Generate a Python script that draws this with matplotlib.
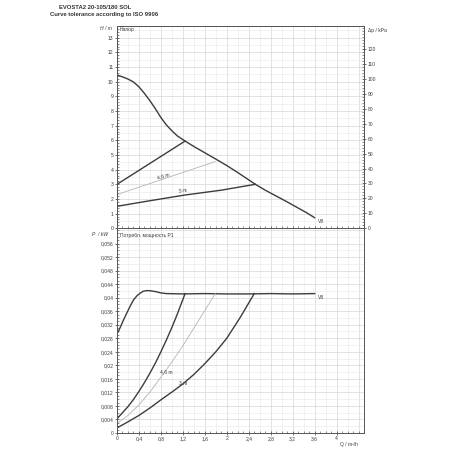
import matplotlib
matplotlib.use("Agg")
import matplotlib.pyplot as plt
from matplotlib.ticker import MultipleLocator, FixedLocator, FuncFormatter
import numpy as np

plt.rcParams['font.family'] = ['Liberation Sans', 'DejaVu Sans']

# --- head curves (H / m vs Q / m3/h)
q_v8 = [0, 0.1, 0.2, 0.3, 0.4, 0.5, 0.6, 0.7, 0.8, 0.9, 1.0, 1.1, 1.24, 1.4, 1.6, 1.8,
        2.0, 2.2, 2.4, 2.52, 2.7, 2.9, 3.1, 3.3, 3.45, 3.6]
h_v8 = [10.45, 10.33, 10.18, 9.98, 9.65, 9.2, 8.7, 8.15, 7.55, 7.05, 6.65, 6.3, 5.95, 5.58,
        5.15, 4.72, 4.28, 3.8, 3.3, 3.0, 2.6, 2.2, 1.8, 1.38, 1.07, 0.72]
q_6m = [0, 1.24]
h_6m = [3.0, 5.95]
q_46m = [0, 1.79]
h_46m = [2.3, 4.55]
q_3m = [0, 0.6, 1.24, 1.9, 2.52]
h_3m = [1.5, 1.88, 2.27, 2.6, 3.0]

# --- power curves (P / kW)
qp_v8 = [0, 0.04, 0.08, 0.13, 0.18, 0.24, 0.3, 0.36, 0.42, 0.48, 0.55, 0.62, 0.7, 0.8, 0.9,
         1.2, 1.6, 2.0, 2.4, 2.8, 3.2, 3.6]
p_v8 = [0.0293, 0.0305, 0.032, 0.0338, 0.0355, 0.0375, 0.0393, 0.0405, 0.0413, 0.0419,
        0.0421, 0.042, 0.0418, 0.0414, 0.0412, 0.0411, 0.0412, 0.0411, 0.0411, 0.0412,
        0.0411, 0.0412]
qp_6m = [0, 0.1, 0.2, 0.3, 0.4, 0.5, 0.6, 0.7, 0.8, 0.9, 1.0, 1.1, 1.24]
p_6m = [0.0042, 0.006, 0.0078, 0.0099, 0.0123, 0.0149, 0.0177, 0.0207, 0.024, 0.0275,
        0.0312, 0.0352, 0.0412]
qp_46m = [0, 0.2, 0.4, 0.6, 0.8, 1.0, 1.2, 1.4, 1.6, 1.79]
p_46m = [0.0028, 0.0052, 0.0083, 0.0121, 0.0165, 0.021, 0.0258, 0.031, 0.0362, 0.0412]
qp_3m = [0, 0.2, 0.4, 0.6, 0.8, 1.0, 1.2, 1.4, 1.6, 1.8, 2.0, 2.25, 2.5]
p_3m = [0.0015, 0.0033, 0.0052, 0.0074, 0.0098, 0.0121, 0.0145, 0.0173, 0.0205, 0.024,
        0.028, 0.0343, 0.0412]

h_ticks = list(range(0, 14))
kpa_ticks = list(range(0, 130, 10))
p_ticks = [i * 0.004 for i in range(15)]
q_ticks = [i * 0.4 for i in range(11)]

DARK = '#3c3c3c'
LIGHT = '#b4b4b4'
GRID_MAJ = '#d2d2d2'
GRID_MIN = '#ebebeb'
FS = 3.6


def comma(v, pos=None):
    s = ('%.3f' % v).rstrip('0').rstrip('.')
    return s.replace('.', ',')


def style(ax, ymaj, ymin_grid, ymin_tick, ylim):
    ax.set_xlim(0, 4.5)
    ax.set_ylim(*ylim)
    for x in np.arange(0.2, 4.5, 0.2):
        major = abs(x / 0.4 - round(x / 0.4)) < 1e-6
        ax.axvline(x, color=GRID_MAJ if major else GRID_MIN, lw=0.45, zorder=0)
    for y in np.arange(ymin_grid, ylim[1], ymin_grid):
        major = abs(y / ymaj - round(y / ymaj)) < 1e-6
        ax.axhline(y, color=GRID_MAJ if major else GRID_MIN, lw=0.45, zorder=0)
    ax.xaxis.set_major_locator(FixedLocator(q_ticks))
    ax.xaxis.set_minor_locator(MultipleLocator(0.1))
    ax.yaxis.set_minor_locator(MultipleLocator(ymin_tick))
    ax.tick_params(which='major', direction='inout', length=3, width=0.5,
                   labelsize=FS, pad=1, colors=DARK)
    ax.tick_params(which='minor', direction='in', length=1.5, width=0.4, colors=DARK)
    for sp in ax.spines.values():
        sp.set_color('#555555')
        sp.set_linewidth(0.7)


fig = plt.figure(figsize=(4.5, 4.5), dpi=100)
ax1 = fig.add_axes([0.26, 0.4927, 0.549, 0.4502])
ax2 = fig.add_axes([0.26, 0.0378, 0.549, 0.4549])

# top chart
style(ax1, 1, 0.5, 0.2, (0, 13.82))
ax1.set_yticks(h_ticks)
ax1.tick_params(axis='x', which='both', labelbottom=False)
ax1.plot(q_v8, h_v8, color=DARK, lw=1.0)
ax1.plot(q_6m, h_6m, color=DARK, lw=1.0)
ax1.plot(q_46m, h_46m, color=LIGHT, lw=0.6)
ax1.plot(q_3m, h_3m, color=DARK, lw=1.0)
ax1.text(0.85, 3.6, '4,6 m', fontsize=FS, color=DARK, rotation=18, ha='center', va='center')
ax1.text(1.2, 2.55, '3 m', fontsize=FS, color=DARK, rotation=9, ha='center', va='center')
ax1.text(3.66, 0.45, 'V8', fontsize=FS, color=DARK, ha='left', va='center')
ax1.text(0.05, 13.55, 'Напор', fontsize=FS, color=DARK, ha='left', va='center')

axr = ax1.twinx()
axr.set_ylim(0, 13.82 * 9.81)
axr.set_yticks(kpa_ticks)
axr.yaxis.set_minor_locator(MultipleLocator(2))
axr.tick_params(which='major', direction='inout', length=3, width=0.5,
                labelsize=FS, pad=1, colors=DARK)
axr.tick_params(which='minor', direction='in', length=1.5, width=0.4, colors=DARK)
for sp in axr.spines.values():
    sp.set_color('#555555')
    sp.set_linewidth(0.7)

# bottom chart
style(ax2, 0.004, 0.002, 0.001, (0, 0.0605))
ax2.set_yticks(p_ticks)
ax2.yaxis.set_major_formatter(FuncFormatter(comma))
ax2.xaxis.set_major_formatter(FuncFormatter(comma))
ax2.plot(qp_v8, p_v8, color=DARK, lw=1.0)
ax2.plot(qp_6m, p_6m, color=DARK, lw=1.0)
ax2.plot(qp_46m, p_46m, color=LIGHT, lw=0.6)
ax2.plot(qp_3m, p_3m, color=DARK, lw=1.0)
ax2.text(0.9, 0.0182, '4,6 m', fontsize=FS, color=DARK, ha='center', va='center')
ax2.text(1.2, 0.0147, '3 m', fontsize=FS, color=DARK, ha='center', va='center')
ax2.text(3.66, 0.0400, 'V8', fontsize=FS, color=DARK, ha='left', va='center')
ax2.text(0.05, 0.0585, 'Потребл. мощность P1', fontsize=FS, color=DARK, ha='left', va='center')

# axis labels placed like the datasheet
fig.text(0.249, 0.936, 'H / m', fontsize=FS, color=DARK, ha='right', va='center', style='italic')
fig.text(0.818, 0.933, 'Δp / kPa', fontsize=FS, color=DARK, ha='left', va='center')
fig.text(0.240, 0.478, 'P  / kW', fontsize=FS, color=DARK, ha='right', va='center', style='italic')
fig.text(0.755, 0.013, 'Q / m³/h', fontsize=FS, color=DARK, ha='left', va='center')

fig.text(0.131, 0.984, 'EVOSTA2 20-105/180 SOL', fontsize=4.2, fontweight='bold',
         color='#333333', ha='left', va='center')
fig.text(0.111, 0.967, 'Curve tolerance according to ISO 9906', fontsize=4.2,
         fontweight='bold', color='#333333', ha='left', va='center')

fig.savefig('out.png', dpi=100)
